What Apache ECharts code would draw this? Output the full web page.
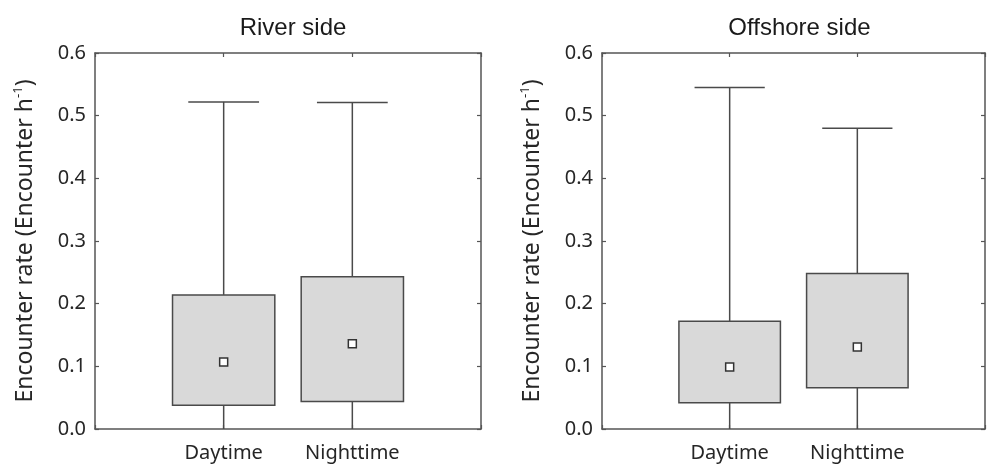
<!DOCTYPE html>
<html>
<head>
<meta charset="utf-8">
<script src="https://cdn.jsdelivr.net/npm/echarts@6/dist/echarts.min.js"></script>
<style>html,body{margin:0;padding:0;background:#fff}#c{width:988px;height:465px}</style>
</head>
<body>
<div id="c"></div>
<script>
const categories = ['Daytime', 'Nighttime'];
const panelTitles = ['River side', 'Offshore side'];
const yTicks = [0, 0.1, 0.2, 0.3, 0.4, 0.5, 0.6];

// River side: whisker min, Q1 (box bottom), marker, Q3 (box top), whisker max
const riverMin = [0, 0];
const riverQ1 = [0.038, 0.044];
const riverMid = [0.107, 0.136];
const riverQ3 = [0.214, 0.243];
const riverMax = [0.522, 0.521];

// Offshore side
const offshoreMin = [0, 0];
const offshoreQ1 = [0.042, 0.066];
const offshoreMid = [0.099, 0.131];
const offshoreQ3 = [0.172, 0.248];
const offshoreMax = [0.545, 0.480];

const FONT = 'Noto Sans';
const TXT = '#262626';
const AX = '#555';

function rows(mn, q1, md, q3, mx) {
  return categories.map((c, i) => [i + 1, mn[i], q1[i], md[i], q3[i], mx[i]]);
}

function renderBox(params, api) {
  const x = api.value(0);
  const band = api.size([1, 0])[0];
  const boxW = band * 0.795, capW = band * 0.55;
  const pMin = api.coord([x, api.value(1)]);
  const pQ1 = api.coord([x, api.value(2)]);
  const pMid = api.coord([x, api.value(3)]);
  const pQ3 = api.coord([x, api.value(4)]);
  const pMax = api.coord([x, api.value(5)]);
  const cx = pQ1[0];
  const ls = { stroke: '#4a4a4a', lineWidth: 1.5, fill: null };
  return {
    type: 'group',
    children: [
      { type: 'line', shape: { x1: cx, y1: pMin[1], x2: cx, y2: pQ1[1] }, style: ls },
      { type: 'line', shape: { x1: cx, y1: pQ3[1], x2: cx, y2: pMax[1] }, style: ls },
      { type: 'line', shape: { x1: cx - capW / 2, y1: pMax[1], x2: cx + capW / 2, y2: pMax[1] }, style: ls },
      { type: 'rect', shape: { x: cx - boxW / 2, y: pQ3[1], width: boxW, height: pQ1[1] - pQ3[1] },
        style: { fill: '#d9d9d9', stroke: '#4a4a4a', lineWidth: 1.5 } },
      { type: 'rect', shape: { x: pMid[0] - 4, y: pMid[1] - 4, width: 8, height: 8 },
        style: { fill: '#ffffff', stroke: '#333', lineWidth: 1.5 } }
    ]
  };
}

const grids = [
  { left: 95, right: 507, top: 53, bottom: 36 },
  { left: 602, right: 1, top: 53, bottom: 36 }
];

const xAxes = [], yAxes = [], series = [], titles = [];
const axisLine = { show: true, onZero: false, lineStyle: { color: AX, width: 1.5 } };
const tick = { show: true, inside: true, length: 4, lineStyle: { color: AX, width: 1.2 } };
const datasets = [
  rows(riverMin, riverQ1, riverMid, riverQ3, riverMax),
  rows(offshoreMin, offshoreQ1, offshoreMid, offshoreQ3, offshoreMax)
];

grids.forEach((g, gi) => {
  const cxTitle = g.left + (988 - g.left - g.right) / 2;
  titles.push({
    text: panelTitles[gi], left: cxTitle, top: 11, textAlign: 'center',
    textStyle: { fontFamily: 'Liberation Sans', fontSize: 24, fontWeight: 'normal', color: '#1a1a1a' }
  });
  xAxes.push({
    type: 'value', gridIndex: gi, position: 'bottom', min: 0, max: 3, interval: 1,
    axisLine, splitLine: { show: false }, axisTick: tick,
    axisLabel: {
      formatter: v => categories[v - 1] || '', margin: 14,
      fontFamily: FONT, fontSize: 20, color: TXT
    }
  });
  xAxes.push({
    type: 'value', gridIndex: gi, position: 'top', min: 0, max: 3, interval: 1,
    axisLine, splitLine: { show: false }, axisTick: tick,
    axisLabel: { show: false }
  });
  yAxes.push({
    type: 'value', gridIndex: gi, position: 'left', min: yTicks[0], max: yTicks[yTicks.length - 1], interval: 0.1,
    axisLine, splitLine: { show: false }, axisTick: tick,
    axisLabel: { formatter: v => v.toFixed(1), margin: 9, fontFamily: FONT, fontSize: 20, color: TXT },
    name: '{n|Encounter rate (Encounter h}{s|-1}{n|)}',
    nameLocation: 'middle', nameGap: 57,
    nameTextStyle: {
      rich: {
        n: { fontFamily: FONT, fontSize: 23, color: TXT, lineHeight: 26 },
        s: { fontFamily: FONT, fontSize: 13, color: TXT, verticalAlign: 'top', lineHeight: 26 }
      }
    }
  });
  yAxes.push({
    type: 'value', gridIndex: gi, position: 'right', min: yTicks[0], max: yTicks[yTicks.length - 1], interval: 0.1,
    axisLine, splitLine: { show: false }, axisTick: tick,
    axisLabel: { show: false }
  });
  series.push({
    type: 'custom', xAxisIndex: gi * 2, yAxisIndex: gi * 2,
    renderItem: renderBox, data: datasets[gi],
    encode: { x: 0, y: [1, 2, 3, 4, 5] }, silent: true
  });
});

const chart = echarts.init(document.getElementById('c'), null, { renderer: 'canvas' });
chart.setOption({
  animation: false,
  backgroundColor: '#fff',
  title: titles,
  grid: grids,
  xAxis: xAxes,
  yAxis: yAxes,
  series
});
</script>
</body>
</html>
